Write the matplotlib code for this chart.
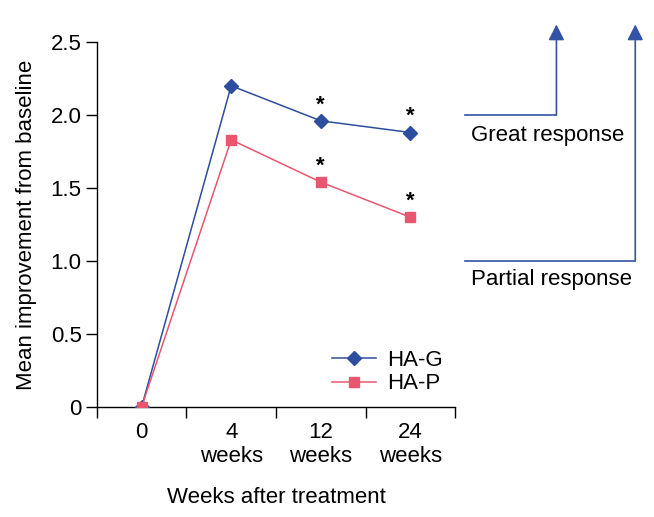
import numpy as np
import matplotlib
matplotlib.use("Agg")
import matplotlib.pyplot as plt
from matplotlib.ticker import FixedLocator, NullFormatter

plt.rcParams['font.family'] = ['Liberation Sans', 'DejaVu Sans']

# data
timepoints = ['0', '4\nweeks', '12\nweeks', '24\nweeks']
ha_g = [0.0, 2.20, 1.96, 1.88]
ha_p = [0.0, 1.83, 1.54, 1.30]
ha_g_sig = [False, False, True, True]
ha_p_sig = [False, False, True, True]
yticks = [0, 0.5, 1.0, 1.5, 2.0, 2.5]
ytick_labels = ['0', '0.5', '1.0', '1.5', '2.0', '2.5']
great_level = 2.0
partial_level = 1.0

blue = '#2d4e9e'
pink = '#e8576f'
arrow_blue = '#3453a6'
fs = 16

fig = plt.figure(figsize=(6.54, 5.17), dpi=100)
ax = fig.add_axes([0.148, 0.2128, 0.548, 0.706])

x = np.arange(len(timepoints))
ax.plot(x, ha_g, color=blue, lw=1.1, marker='D', ms=7, label='HA-G', zorder=3)
ax.plot(x, ha_p, color=pink, lw=1.1, marker='s', ms=6.5, label='HA-P', zorder=3)

# significance stars
for xi, yi, s in zip(x, ha_g, ha_g_sig):
    if s:
        ax.annotate('*', (xi, yi), xytext=(0, 4), textcoords='offset points',
                    ha='center', va='bottom', fontsize=16, fontweight='bold')
for xi, yi, s in zip(x, ha_p, ha_p_sig):
    if s:
        ax.annotate('*', (xi, yi), xytext=(0, 4), textcoords='offset points',
                    ha='center', va='bottom', fontsize=16, fontweight='bold')

ax.set_xlim(-0.5, 3.5)
ax.set_ylim(0, 2.5)
ax.spines['top'].set_visible(False)
ax.spines['right'].set_visible(False)
ax.spines['left'].set_linewidth(1.0)
ax.spines['bottom'].set_linewidth(1.0)

# tick marks between categories, labels under the categories
ax.xaxis.set_major_locator(FixedLocator(np.arange(-0.5, 4.0, 1.0)))
ax.xaxis.set_major_formatter(NullFormatter())
ax.set_xticks(x, timepoints, minor=True)
ax.tick_params(axis='x', which='major', length=8, width=1.0, direction='out')
ax.tick_params(axis='x', which='minor', length=0, pad=11, labelsize=fs)
ax.set_yticks(yticks, ytick_labels)
ax.tick_params(axis='y', length=8, width=1.0, pad=3, labelsize=fs)

ax.set_ylabel('Mean improvement from baseline', fontsize=fs, labelpad=10)
ax.set_xlabel('Weeks after treatment', fontsize=fs, labelpad=14)

ax.legend(loc='lower right', bbox_to_anchor=(0.99, 0.01), frameon=False,
          fontsize=fs, handlelength=2.0, handletextpad=0.5, labelspacing=0.1,
          borderaxespad=0)

# response thresholds on the right
x0, x_great, x_partial, tip = 3.61, 4.63, 5.51, 2.62
ax.plot([x0, x_great], [great_level, great_level], color=arrow_blue, lw=1.2, clip_on=False)
ax.plot([x0, x_partial], [partial_level, partial_level], color=arrow_blue, lw=1.2, clip_on=False)
for xa, ya in [(x_great, great_level), (x_partial, partial_level)]:
    ax.annotate('', xy=(xa, tip), xytext=(xa, ya), annotation_clip=False,
                arrowprops=dict(arrowstyle='-|>,head_length=0.95,head_width=0.48',
                                color=arrow_blue, lw=1.2, shrinkA=0, shrinkB=0,
                                mutation_scale=10))
ax.text(3.68, 1.86, 'Great response', fontsize=fs, va='center', ha='left', clip_on=False)
ax.text(3.68, 0.87, 'Partial response', fontsize=fs, va='center', ha='left', clip_on=False)

fig.savefig('out.png', dpi=100)
